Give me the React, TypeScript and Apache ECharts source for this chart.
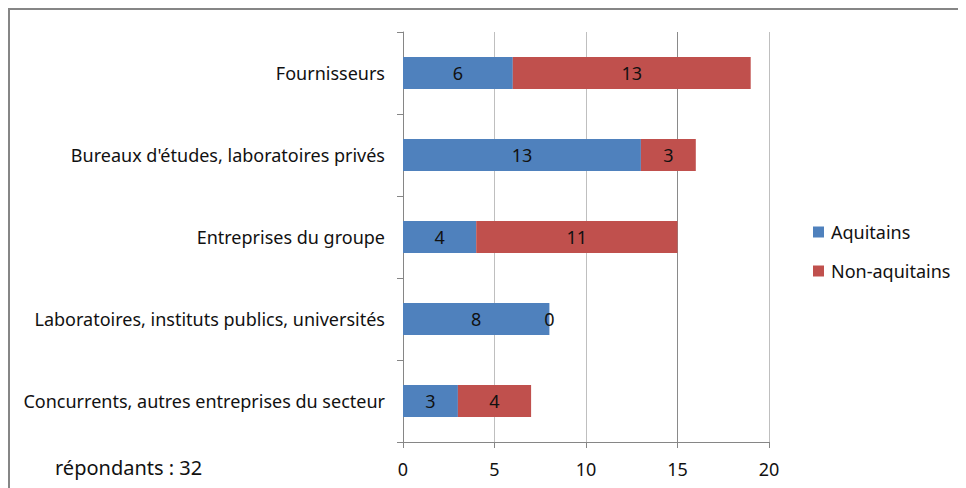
import React, { useEffect, useRef } from "react";
import * as echarts from "echarts";

const categories = [
  "Fournisseurs",
  "Bureaux d'études, laboratoires privés",
  "Entreprises du groupe",
  "Laboratoires, instituts publics, universités",
  "Concurrents, autres entreprises du secteur",
];
const aquitains = [6, 13, 4, 8, 3];
const nonAquitains = [13, 3, 11, 0, 4];
const seriesNames = ["Aquitains", "Non-aquitains"];
const xTicks = { min: 0, max: 20, interval: 5 };
const footnote = "répondants : 32";

const FONT = "Noto Sans";

export default function App() {
  const ref = useRef<HTMLDivElement>(null);
  useEffect(() => {
    if (!ref.current) return;
    const chart = echarts.init(ref.current, undefined, { renderer: "svg" });
    const labelStyle = {
      show: true,
      position: "inside",
      color: "#111",
      fontSize: 18,
      fontFamily: FONT,
    };
    chart.setOption({
      animation: false,
      backgroundColor: "#fff",
      textStyle: { fontFamily: FONT },
      grid: { left: 395, top: 24, width: 366, height: 410, containLabel: false },
      legend: {
        orient: "vertical",
        left: 800,
        top: 210,
        itemWidth: 11,
        itemHeight: 11,
        itemGap: 21,
        icon: "rect",
        textStyle: { fontSize: 18, color: "#111", fontFamily: FONT, padding: [0, 0, 0, 2] },
        data: seriesNames,
      },
      xAxis: {
        type: "value",
        min: xTicks.min,
        max: xTicks.max,
        interval: xTicks.interval,
        axisLine: { show: true, lineStyle: { color: "#868686", width: 1 } },
        axisTick: { show: true, length: 6, lineStyle: { color: "#868686" } },
        axisLabel: { color: "#111", fontSize: 18, margin: 18, fontFamily: FONT },
        splitLine: {
          show: true,
          lineStyle: { color: ["#bfbfbf", "#bfbfbf", "#bfbfbf", "#8a8a8a", "#bfbfbf"], width: 1 },
        },
      },
      yAxis: {
        type: "category",
        inverse: true,
        data: categories,
        axisLine: { show: true, lineStyle: { color: "#868686", width: 1 } },
        axisTick: { show: true, length: 6, lineStyle: { color: "#868686" } },
        axisLabel: { color: "#111", fontSize: 18, margin: 18, fontFamily: FONT },
      },
      series: [
        {
          name: seriesNames[0],
          type: "bar",
          stack: "total",
          barWidth: 32,
          data: aquitains,
          itemStyle: { color: "#4F81BD" },
          label: labelStyle,
        },
        {
          name: seriesNames[1],
          type: "bar",
          stack: "total",
          barWidth: 32,
          data: nonAquitains,
          itemStyle: { color: "#C0504D" },
          label: labelStyle,
        },
      ],
      graphic: [
        { type: "line", shape: { x1: 0, y1: 1, x2: 958, y2: 1 }, style: { stroke: "#868686", lineWidth: 2 } },
        { type: "line", shape: { x1: 1, y1: 0, x2: 1, y2: 480 }, style: { stroke: "#868686", lineWidth: 2 } },
        {
          type: "text",
          left: 47,
          top: 449,
          style: { text: footnote, fontSize: 20, fill: "#111", fontFamily: FONT },
        },
      ],
    });
    return () => chart.dispose();
  }, []);
  return <div ref={ref} style={{ width: 958, height: 480 }} />;
}
